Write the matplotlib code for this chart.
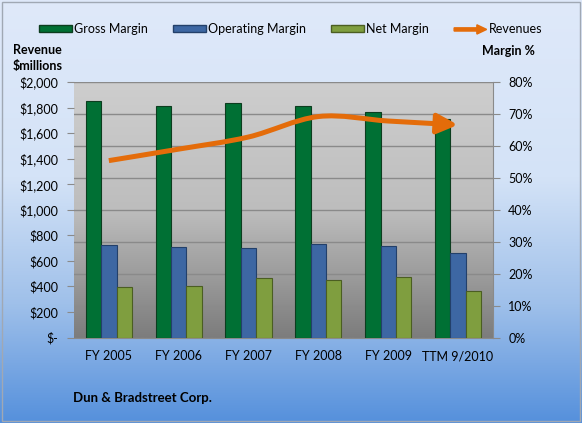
import numpy as np
import matplotlib
matplotlib.use('Agg')
import matplotlib.pyplot as plt
import matplotlib.patches as mpatches
from matplotlib.path import Path
from matplotlib.legend_handler import HandlerPatch
from matplotlib.colors import LinearSegmentedColormap
from matplotlib.ticker import FuncFormatter, MultipleLocator

periods = ['FY 2005', 'FY 2006', 'FY 2007', 'FY 2008', 'FY 2009', 'TTM 9/2010']
gross_margin = [74.1, 72.4, 73.3, 72.4, 70.5, 68.3]
operating_margin = [28.9, 28.4, 28.1, 29.2, 28.7, 26.5]
net_margin = [15.8, 16.2, 18.7, 18.1, 18.9, 14.6]
revenues = [1385, 1475, 1570, 1730, 1695, 1665]

GREEN = '#007034'
BLUE = '#3d67a3'
OLIVE = '#7f9e3f'
ORANGE = '#e46c0a'

plt.rcParams['font.family'] = ['Lato', 'DejaVu Sans']


def smooth_path(x, y):
    """ Bezier path through the points (Catmull-Rom style smoothing, like Excel) """
    pts = np.column_stack([x, y]).astype(float)
    ext = np.vstack([pts[0], pts, pts[-1]])
    verts = [pts[0]]
    codes = [Path.MOVETO]
    for i in range(1, len(ext) - 2):
        p0, p1, p2, p3 = ext[i - 1], ext[i], ext[i + 1], ext[i + 2]
        verts += [p1 + (p2 - p0) / 6.0, p2 - (p3 - p1) / 6.0, p2]
        codes += [Path.CURVE4] * 3
    return Path(verts, codes)


def make_arrow(legend, orig_handle, xdescent, ydescent, width, height, fontsize):
    return mpatches.FancyArrow(0, 0.5 * height, width, 0, width=0.45 * height,
                               head_width=1.3 * height, head_length=0.3 * width,
                               length_includes_head=True)


fig = plt.figure(figsize=(5.82, 4.23), dpi=100)

# figure background gradient
bg = fig.add_axes([0, 0, 1, 1], zorder=-10)
bg.axis('off')
bg_cmap = LinearSegmentedColormap.from_list(
    'bg', [(0.0, '#dfe9fa'), (0.42, '#d4e3f7'), (0.72, '#9fc0ea'), (1.0, '#5590dc')])
bg.imshow(np.linspace(0, 1, 256).reshape(-1, 1), aspect='auto', cmap=bg_cmap,
          extent=[0, 1, 0, 1])
bg.add_patch(mpatches.Rectangle((0.004, 0.005), 0.992, 0.99, transform=bg.transAxes,
                                fill=False, edgecolor='#a0a8b4', lw=1))
bg.set_xlim(0, 1)
bg.set_ylim(0, 1)

ax = fig.add_axes([0.127, 0.202, 0.720, 0.604])
pa_cmap = LinearSegmentedColormap.from_list('pa', ['#cecece', '#bdbdbd', '#7c7c7c'])
ax.imshow(np.linspace(0, 1, 256).reshape(-1, 1), aspect='auto', cmap=pa_cmap,
          extent=[0, 1, 0, 1], transform=ax.transAxes, zorder=0)

x = np.arange(len(periods))
w = 0.22
ax.bar(x - w, gross_margin, w, color=GREEN, edgecolor='#0c3d1f', lw=0.8, zorder=3)
ax.bar(x, operating_margin, w, color=BLUE, edgecolor='#23406a', lw=0.8, zorder=3)
ax.bar(x + w, net_margin, w, color=OLIVE, edgecolor='#4b5e22', lw=0.8, zorder=3)

ax2 = ax.twinx()

ax.set_xlim(-0.5, len(periods) - 0.5)
ax.set_ylim(0, 80)
ax.yaxis.set_major_locator(MultipleLocator(10))
ax.yaxis.set_major_formatter(FuncFormatter(lambda v, p: f'{v:.0f}%'))
ax.yaxis.tick_right()
ax.set_axisbelow(True)
ax.grid(axis='y', color='#8a8a8a', lw=1)
ax.set_xticks(x)
ax.set_xticklabels(periods)
ax.tick_params(axis='x', length=0, pad=9, labelsize=9)
ax.tick_params(axis='y', length=5, color='#8a8a8a', pad=6, labelsize=9)
for s in ['top', 'left']:
    ax.spines[s].set_visible(False)
ax.spines['right'].set_color('#8a8a8a')
ax.spines['bottom'].set_color('#8a8a8a')

ax2.set_ylim(0, 2000)
ax2.yaxis.set_major_locator(MultipleLocator(200))
ax2.yaxis.set_major_formatter(FuncFormatter(lambda v, p: '$-' if v == 0 else f'${v:,.0f}'))
ax2.yaxis.tick_left()
ax2.tick_params(axis='y', length=5, color='#8a8a8a', pad=6, labelsize=9)
for s in ax2.spines.values():
    s.set_visible(False)

rev_arrow = mpatches.FancyArrowPatch(path=smooth_path(x, revenues), transform=ax2.transData,
                                     arrowstyle='-|>,head_length=1.25,head_width=0.6',
                                     mutation_scale=10, color=ORANGE, lw=3.6,
                                     capstyle='butt', zorder=5)
ax2.add_patch(rev_arrow)

handles = [mpatches.Patch(facecolor=GREEN, edgecolor='#0c3d1f'),
           mpatches.Patch(facecolor=BLUE, edgecolor='#23406a'),
           mpatches.Patch(facecolor=OLIVE, edgecolor='#4b5e22'),
           mpatches.Patch(facecolor=ORANGE, edgecolor=ORANGE)]
labels = ['Gross Margin', 'Operating Margin', 'Net Margin', 'Revenues']
fig.legend(handles, labels, loc='center', bbox_to_anchor=(0.5, 1 - 29 / 423), ncol=4,
           frameon=False, fontsize=9, handlelength=2.6, handleheight=0.5,
           handletextpad=0.2, columnspacing=2.0,
           handler_map={handles[3]: HandlerPatch(patch_func=make_arrow)})

fig.text(13 / 582, 1 - 50 / 423, 'Revenue', fontsize=9, fontweight='bold', ha='left', va='center')
fig.text(13 / 582, 1 - 66 / 423, '\\$millions', fontsize=9, fontweight='bold', ha='left', va='center')
fig.text(535 / 582, 1 - 51 / 423, 'Margin %', fontsize=9, fontweight='bold', ha='right', va='center')
fig.text(73 / 582, 1 - 398 / 423, 'Dun & Bradstreet Corp.', fontsize=9.5, fontweight='bold',
         ha='left', va='center')

fig.savefig('out.png', dpi=100)
